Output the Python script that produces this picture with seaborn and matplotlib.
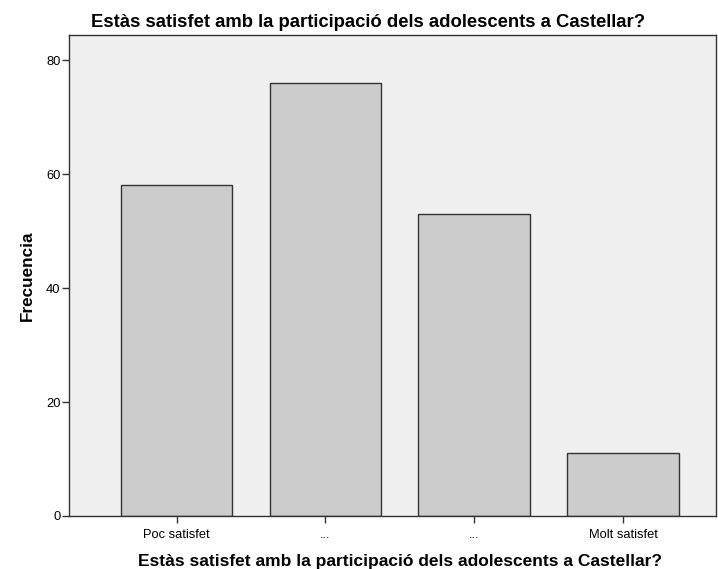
import matplotlib
matplotlib.use("Agg")
import matplotlib.pyplot as plt
import seaborn as sns
import pandas as pd

categories = ["Poc satisfet", "...", "...", "Molt satisfet"]
values = [58, 76, 53, 11]
yticks = [0, 20, 40, 60, 80]
title = "Estàs satisfet amb la participació dels adolescents a Castellar?"

sns.set_theme(style="white")
plt.rcParams['font.family'] = ['Liberation Sans', 'DejaVu Sans']
plt.rcParams['text.color'] = 'black'
plt.rcParams['axes.labelcolor'] = 'black'
plt.rcParams['xtick.color'] = 'black'
plt.rcParams['ytick.color'] = 'black'

df = pd.DataFrame({"cat": [f"c{i}" for i in range(len(categories))], "val": values})

fig = plt.figure(figsize=(7.18, 5.69), dpi=100)
ax = fig.add_axes([69/718, 1-516/569, (716-69)/718, (516-35)/569])
ax.set_facecolor("#F0F0F0")
sns.barplot(data=df, x="cat", y="val", ax=ax, color="#CCCCCC", width=0.75,
            edgecolor="#333333", linewidth=1.0, saturation=1)
ax.set_xlim(-0.723, 3.625)
ax.set_ylim(0, 84.4)
ax.set_yticks(yticks)
ax.set_yticklabels([str(t) for t in yticks], fontsize=9.3)
ax.set_xticks(range(len(categories)))
ax.set_xticklabels(categories, fontsize=9.3)
ax.tick_params(axis="both", direction="out", length=5, width=1, color="#333333",
               bottom=True, left=True, pad=1)
ax.tick_params(axis="x", pad=4)
for s in ax.spines.values():
    s.set_color("#333333")
    s.set_linewidth(1)
ax.set_xlabel("")
ax.set_ylabel("Frecuencia", fontsize=12.3, fontweight="bold", labelpad=8)
fig.text(400/718, 1-566/569, title, ha="center", va="baseline",
         fontsize=12.5, fontweight="bold")
fig.text(368/718, 1-27/569, title, ha="center", va="baseline",
         fontsize=13.3, fontweight="bold")
fig.savefig("out.png", dpi=100)
